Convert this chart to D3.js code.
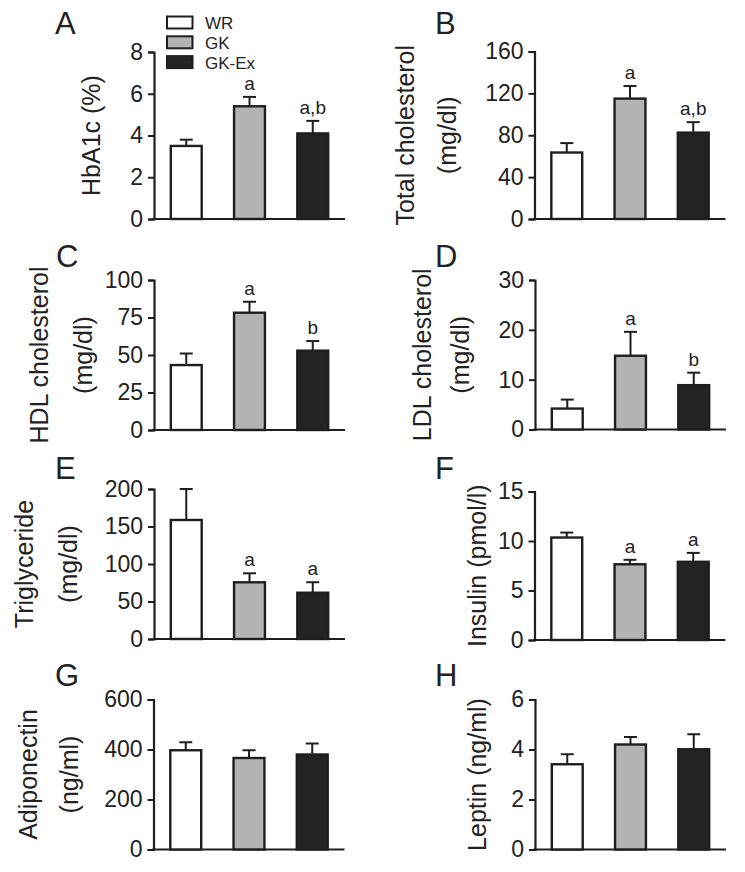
<!DOCTYPE html>
<html>
<head>
<meta charset="utf-8">
<script src="https://cdn.jsdelivr.net/npm/d3@7"></script>
<style>
  html, body { margin: 0; padding: 0; background: #fff; }
  svg { display: block; font-family: "Liberation Sans", Arial, Helvetica, sans-serif; }
</style>
</head>
<body>
<svg id="chart" width="745" height="872"></svg>
<script>
// ---------- DATA ----------
const groups = ["WR", "GK", "GK-Ex"];
const groupColors = ["#ffffff", "#b3b3b3", "#232323"];

const hba1cMean = [3.5, 5.4, 4.1];
const hba1cErr  = [0.3, 0.45, 0.6];
const hba1cTicks = [0, 2, 4, 6, 8];
const hba1cSig = ["", "a", "a,b"];

const tcholMean = [63.5, 115, 82.5];
const tcholErr  = [9, 12, 10];
const tcholTicks = [0, 40, 80, 120, 160];
const tcholSig = ["", "a", "a,b"];

const hdlMean = [43.3, 78.2, 52.9];
const hdlErr  = [7.7, 7.3, 6.4];
const hdlTicks = [0, 25, 50, 75, 100];
const hdlSig = ["", "a", "b"];

const ldlMean = [4.2, 14.8, 8.9];
const ldlErr  = [1.8, 4.8, 2.5];
const ldlTicks = [0, 10, 20, 30];
const ldlSig = ["", "a", "b"];

const tgMean = [158.7, 75.6, 61.7];
const tgErr  = [41.3, 12, 14];
const tgTicks = [0, 50, 100, 150, 200];
const tgSig = ["", "a", "a"];

const insMean = [10.35, 7.65, 7.9];
const insErr  = [0.5, 0.45, 0.9];
const insTicks = [0, 5, 10, 15];
const insSig = ["", "a", "a"];

const adipoMean = [397, 366, 380];
const adipoErr  = [32, 31, 44];
const adipoTicks = [0, 200, 400, 600];
const adipoSig = ["", "", ""];

const leptinMean = [3.41, 4.2, 4.01];
const leptinErr  = [0.4, 0.3, 0.6];
const leptinTicks = [0, 2, 4, 6];
const leptinSig = ["", "", ""];

const panelLetters = ["A", "B", "C", "D", "E", "F", "G", "H"];
const yLabels = [
  ["HbA1c (%)"],
  ["Total cholesterol", "(mg/dl)"],
  ["HDL cholesterol", "(mg/dl)"],
  ["LDL cholesterol", "(mg/dl)"],
  ["Triglyceride", "(mg/dl)"],
  ["Insulin (pmol/l)"],
  ["Adiponectin", "(ng/ml)"],
  ["Leptin (ng/ml)"]
];

// ---------- LAYOUT ----------
const panels = [
  {mean: hba1cMean, err: hba1cErr, ticks: hba1cTicks, sig: hba1cSig, ax: 154,   top: 52,    bot: 219,   labX: [100],      letter: [55, 34]},
  {mean: tcholMean, err: tcholErr, ticks: tcholTicks, sig: tcholSig, ax: 534.5, top: 51.5,  bot: 219,   labX: [414, 456], letter: [435, 34]},
  {mean: hdlMean,   err: hdlErr,   ticks: hdlTicks,   sig: hdlSig,   ax: 154,   top: 280,   bot: 430,   labX: [48, 92],   letter: [56, 267]},
  {mean: ldlMean,   err: ldlErr,   ticks: ldlTicks,   sig: ldlSig,   ax: 535,   top: 280,   bot: 429.5, labX: [431, 469], letter: [435, 267]},
  {mean: tgMean,    err: tgErr,    ticks: tgTicks,    sig: tgSig,    ax: 154,   top: 489,   bot: 639,   labX: [33, 77],   letter: [55, 479]},
  {mean: insMean,   err: insErr,   ticks: insTicks,   sig: insSig,   ax: 534.5, top: 491.5, bot: 640,   labX: [486],      letter: [435, 479]},
  {mean: adipoMean, err: adipoErr, ticks: adipoTicks, sig: adipoSig, ax: 153.5, top: 699.5, bot: 849.5, labX: [37, 78],   letter: [55, 686]},
  {mean: leptinMean,err: leptinErr,ticks: leptinTicks,sig: leptinSig,ax: 535,   top: 699.5, bot: 849.5, labX: [486],      letter: [435, 686]}
];

const svg = d3.select("#chart");
const ink = "#1e1e1e";
const plotW = 191;

panels.forEach((p, i) => {
  const g = svg.append("g");
  const y = d3.scaleLinear().domain([0, d3.max(p.ticks)]).range([p.bot, p.top]);
  const x = d3.scaleBand().domain(groups).range([p.ax, p.ax + plotW])
    .paddingInner(0.48).paddingOuter(0.25);

  // y axis
  const yAxis = d3.axisLeft(y).tickValues(p.ticks).tickFormat(d3.format("~g"))
    .tickSizeOuter(0).tickSize(6).tickPadding(5);
  const ya = g.append("g").attr("transform", `translate(${p.ax},0)`).call(yAxis);
  ya.select(".domain").attr("stroke", ink).attr("stroke-width", 2.2);
  ya.selectAll(".tick line").attr("stroke", ink).attr("stroke-width", 2);
  ya.selectAll(".tick text").attr("fill", "#222").style("font-size", "23px")
    .style("font-family", '"Liberation Sans", Arial, sans-serif');

  // x axis baseline
  g.append("line")
    .attr("x1", p.ax - 1.5).attr("x2", p.ax + plotW)
    .attr("y1", y(0)).attr("y2", y(0))
    .attr("stroke", ink).attr("stroke-width", 2.2);

  // error bars (upper only)
  groups.forEach((grp, k) => {
    const cx = x(grp) + x.bandwidth() / 2;
    const yt = y(p.mean[k] + p.err[k]);
    g.append("line").attr("x1", cx).attr("x2", cx)
      .attr("y1", y(p.mean[k])).attr("y2", yt)
      .attr("stroke", ink).attr("stroke-width", 2);
    g.append("line").attr("x1", cx - 6.5).attr("x2", cx + 6.5)
      .attr("y1", yt).attr("y2", yt)
      .attr("stroke", ink).attr("stroke-width", 2);
    if (p.sig[k]) {
      g.append("text").attr("x", cx).attr("y", yt - 7)
        .attr("text-anchor", "middle").attr("fill", "#222")
        .style("font-size", "19px").text(p.sig[k]);
    }
  });

  // bars
  g.selectAll("rect.bar").data(groups).enter().append("rect")
    .attr("class", "bar")
    .attr("x", d => x(d) + 1)
    .attr("width", x.bandwidth() - 2)
    .attr("y", (d, k) => y(p.mean[k]))
    .attr("height", (d, k) => y(0) - y(p.mean[k]))
    .attr("fill", (d, k) => groupColors[k])
    .attr("stroke", ink).attr("stroke-width", 2.4);

  // y label
  const cy = (p.top + p.bot) / 2;
  yLabels[i].forEach((line, j) => {
    g.append("text")
      .attr("transform", `translate(${p.labX[j]},${cy}) rotate(-90)`)
      .attr("text-anchor", "middle").attr("fill", "#222")
      .style("font-size", "25px").text(line);
  });

  // panel letter
  g.append("text").attr("x", p.letter[0]).attr("y", p.letter[1])
    .attr("fill", "#222").style("font-size", "31px").text(panelLetters[i]);
});

// legend
const leg = svg.append("g");
groups.forEach((grp, k) => {
  const yy = 16.5 + k * 19.8;
  leg.append("rect").attr("x", 167).attr("y", yy).attr("width", 25.5).attr("height", 12)
    .attr("fill", groupColors[k]).attr("stroke", ink).attr("stroke-width", 2);
  leg.append("text").attr("x", 205).attr("y", yy + 12.5)
    .attr("fill", "#222").style("font-size", "17px").text(grp);
});
</script>
</body>
</html>
